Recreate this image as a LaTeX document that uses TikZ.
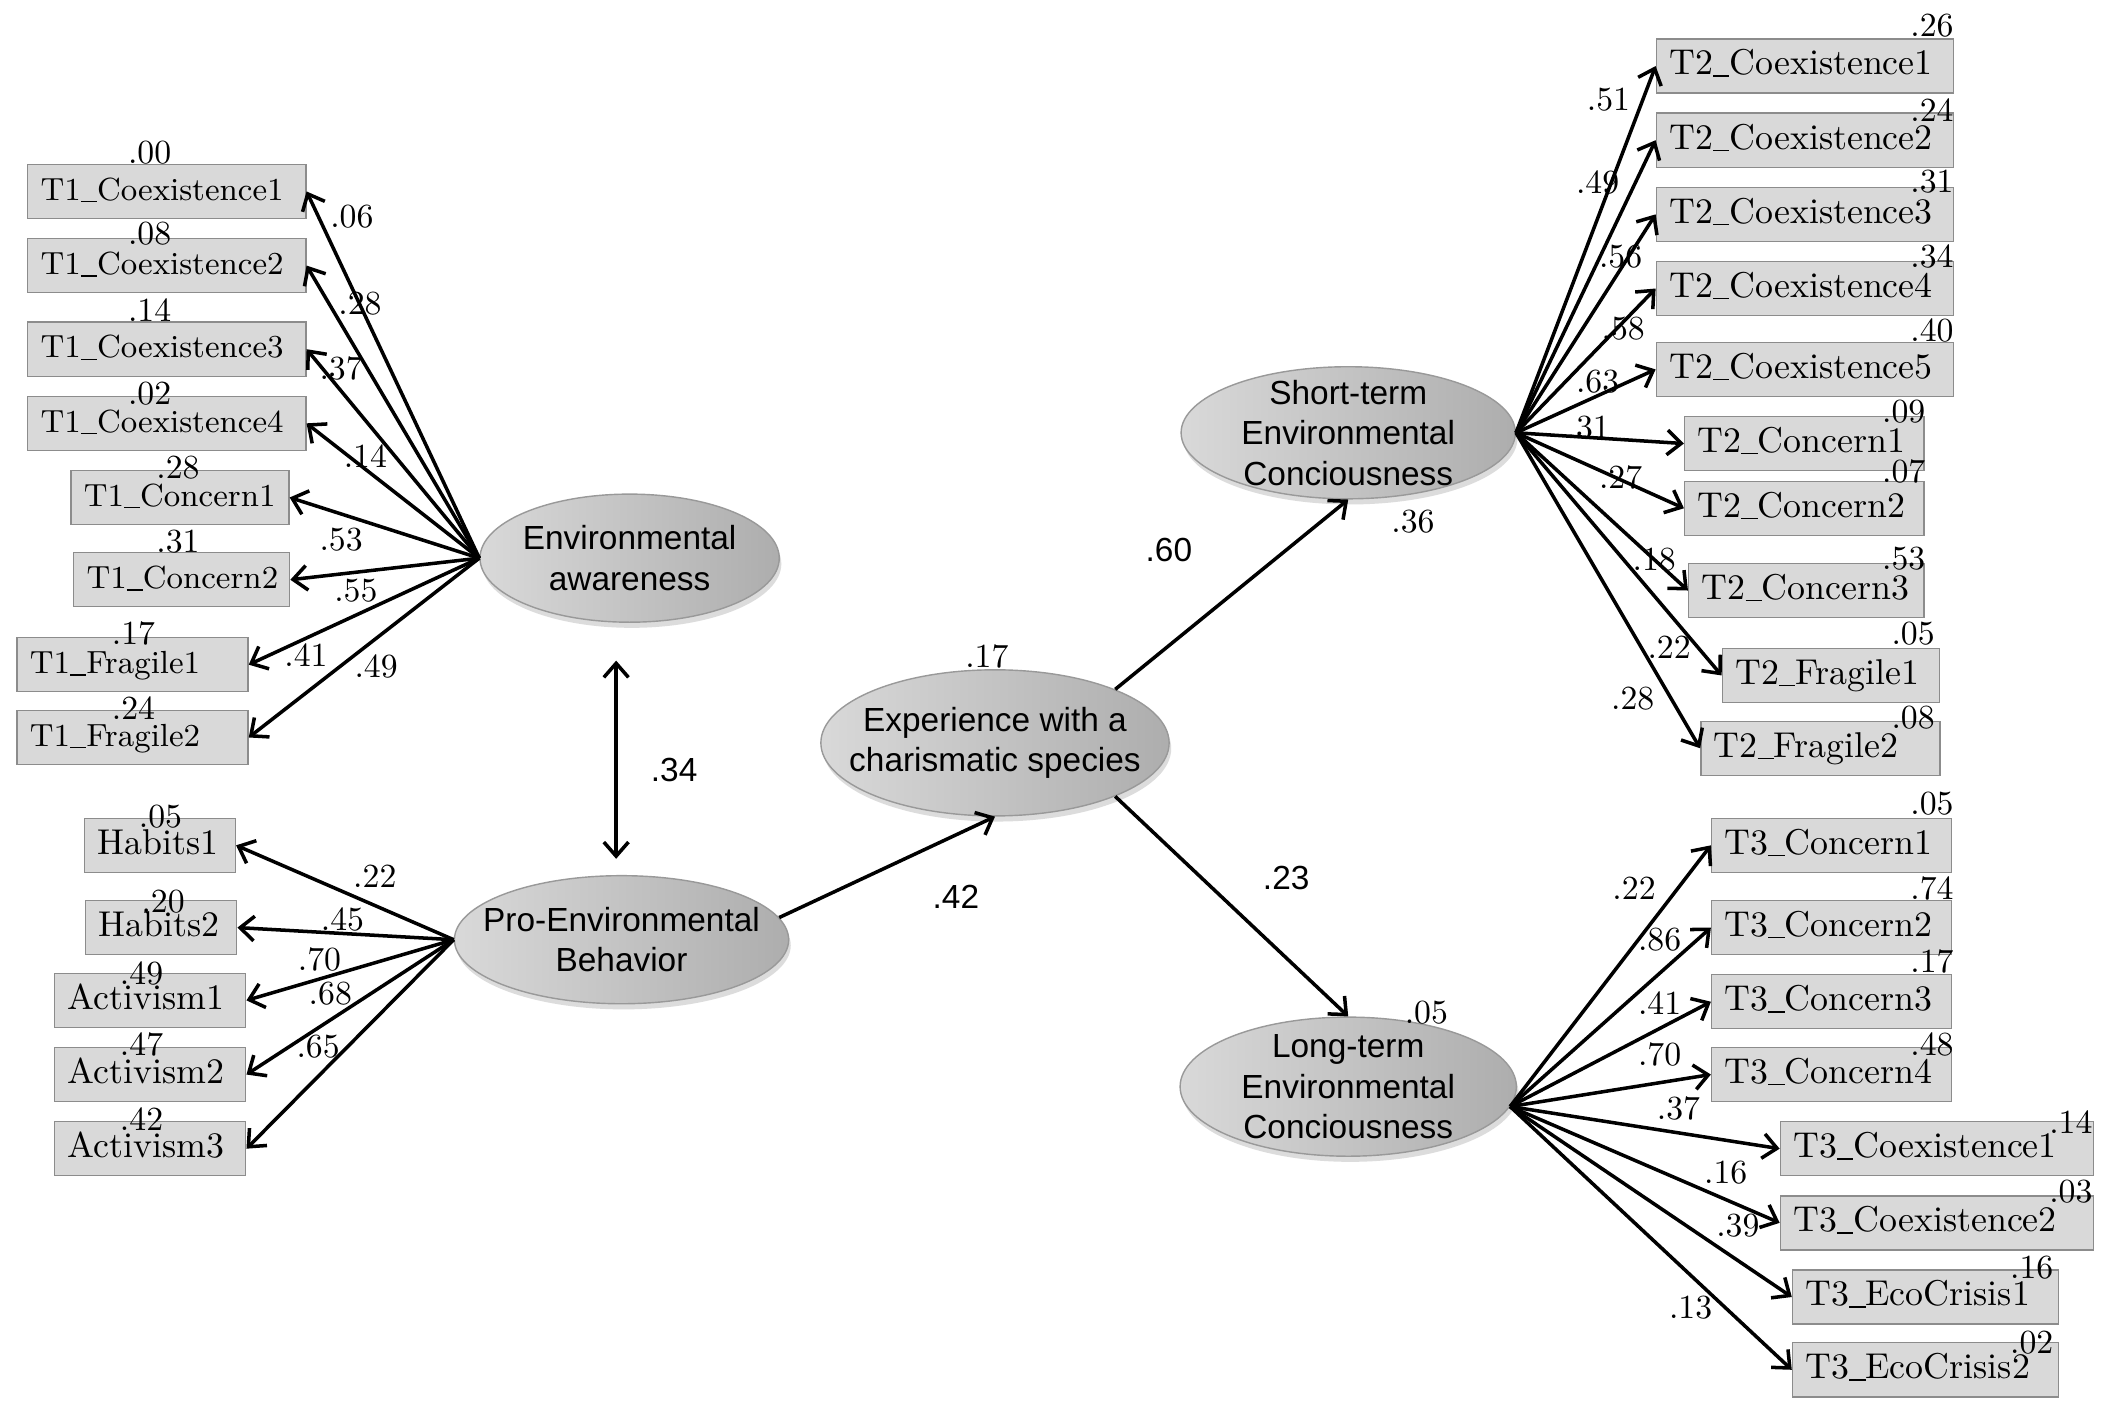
\documentclass[tikz,border=0pt]{standalone}
\usepackage{fontspec}
\newfontfamily\arialfont{Liberation Sans}
\usetikzlibrary{shapes.geometric}
\usetikzlibrary{arrows.meta}
\usetikzlibrary{shadows}
\hyphenpenalty=10000
\exhyphenpenalty=10000
\newcommand{\usc}{\rule[-0.6pt]{4.6pt}{0.45pt}}

\begin{document}
\begin{tikzpicture}[x=0.01348cm, y=-0.01348cm,
    ind/.style={rectangle, draw=black!45, fill=black!15, anchor=west, minimum height=0.54cm,
      inner xsep=0.13cm, inner ysep=0pt, text width=#1, align=left, text height=7pt, text depth=2pt,
      font=\fontsize{10.2}{12}\selectfont},
    indsmall/.style={ind=#1, font=\fontsize{9.1}{11}\selectfont},
    latent/.style={ellipse, draw=black!40, left color=black!15, right color=black!32, inner sep=-8pt,
      align=center, font=\arialfont\fontsize{9.5}{11.5}\selectfont,
      drop shadow={shadow xshift=0.6pt, shadow yshift=-1.6pt, fill=black!30, opacity=0.45}},
    coef/.style={inner sep=0pt, font=\fontsize{9.6}{11}\selectfont},
    pcoef/.style={inner sep=0pt, font=\arialfont\fontsize{9.5}{11}\selectfont},
    arr/.style={-{Straight Barb[length=4pt,width=7pt]}, line width=1pt},
    darr/.style={{Straight Barb[length=4pt,width=7pt]}-{Straight Barb[length=4pt,width=7pt]}, line width=1pt}]
    \fill[white] (0,0) rectangle (1568,1046);
    \useasboundingbox (0,0) rectangle (1568,1046);

    % latent variables
    \node[latent, minimum width=2.99cm, minimum height=1.28cm] (ea) at (467,414) {Environmental\\awareness};
    \node[latent, minimum width=3.34cm, minimum height=1.28cm] (peb) at (461,697) {Pro-Environmental\\Behavior};
    \node[latent, minimum width=3.48cm, minimum height=1.46cm] (exp) at (738,551) {Experience with a\\charismatic species};
    \node[latent, minimum width=3.34cm, minimum height=1.32cm] (st) at (1000,321) {Short-term\\Environmental\\Conciousness};
    \node[latent, minimum width=3.36cm, minimum height=1.39cm] (lt) at (1000,806) {Long-term\\Environmental\\Conciousness};

    % T1 indicators
    \node[indsmall=2.52cm] (t1c1) at (20,142) {T1\usc Coexistence1};
    \node[indsmall=2.52cm] (t1c2) at (20,197) {T1\usc Coexistence2};
    \node[indsmall=2.52cm] (t1c3) at (20,259) {T1\usc Coexistence3};
    \node[indsmall=2.52cm] (t1c4) at (20,314) {T1\usc Coexistence4};
    \node[indsmall=1.92cm] (t1k1) at (52,369) {T1\usc Concern1};
    \node[indsmall=1.90cm] (t1k2) at (54,430) {T1\usc Concern2};
    \node[indsmall=2.05cm] (t1f1) at (12,493) {T1\usc Fragile1};
    \node[indsmall=2.05cm] (t1f2) at (12,547) {T1\usc Fragile2};

    % behaviour indicators
    \node[ind=1.25cm] (hab1) at (62,627) {Habits1};
    \node[ind=1.25cm] (hab2) at (63,688) {Habits2};
    \node[ind=1.65cm] (act1) at (40,742) {Activism1};
    \node[ind=1.65cm] (act2) at (40,797) {Activism2};
    \node[ind=1.65cm] (act3) at (40,852) {Activism3};

    % T2 indicators
    \node[ind=2.71cm] (t2c1) at (1228,49) {T2\usc Coexistence1};
    \node[ind=2.71cm] (t2c2) at (1228,104) {T2\usc Coexistence2};
    \node[ind=2.71cm] (t2c3) at (1228,159) {T2\usc Coexistence3};
    \node[ind=2.71cm] (t2c4) at (1228,214) {T2\usc Coexistence4};
    \node[ind=2.71cm] (t2c5) at (1228,274) {T2\usc Coexistence5};
    \node[ind=2.13cm] (t2k1) at (1249,329) {T2\usc Concern1};
    \node[ind=2.13cm] (t2k2) at (1249,377) {T2\usc Concern2};
    \node[ind=2.09cm] (t2k3) at (1252,438) {T2\usc Concern3};
    \node[ind=1.91cm] (t2f1) at (1277,501) {T2\usc Fragile1};
    \node[ind=2.13cm] (t2f2) at (1261,555) {T2\usc Fragile2};

    % T3 indicators
    \node[ind=2.14cm] (t3k1) at (1269,627) {T3\usc Concern1};
    \node[ind=2.14cm] (t3k2) at (1269,688) {T3\usc Concern2};
    \node[ind=2.14cm] (t3k3) at (1269,743) {T3\usc Concern3};
    \node[ind=2.14cm] (t3k4) at (1269,797) {T3\usc Concern4};
    \node[ind=2.87cm] (t3c1) at (1320,852) {T3\usc Coexistence1};
    \node[ind=2.87cm] (t3c2) at (1320,907) {T3\usc Coexistence2};
    \node[ind=2.40cm] (t3e1) at (1329,962) {T3\usc EcoCrisis1};
    \node[ind=2.40cm] (t3e2) at (1329,1016) {T3\usc EcoCrisis2};

    % loadings
    \foreach \t in {t1c1,t1c2,t1c3,t1c4,t1k1,t1k2,t1f1,t1f2}
        \draw[arr] (ea.west) -- (\t.east);
    \foreach \t in {hab1,hab2,act1,act2,act3}
        \draw[arr] (peb.west) -- (\t.east);
    \foreach \t in {t2c1,t2c2,t2c3,t2c4,t2c5,t2k1,t2k2,t2k3,t2f1,t2f2}
        \draw[arr] (st.east) -- (\t.west);
    \foreach \t in {t3k1,t3k2,t3k3,t3k4,t3c1,t3c2,t3e1,t3e2}
        \draw[arr] (lt.-7) -- (\t.west);

    % structural paths
    \coordinate (cov1) at (457,490);
    \coordinate (cov2) at (457,637);
    \draw[darr] (cov1) -- (cov2);
    \draw[arr] (peb.8) -- (exp.south);
    \draw[arr] (exp.24) -- (st.south);
    \draw[arr] (exp.-24) -- (lt.north);

    % path coefficients
    \node[pcoef] (pcov) at (500,571) {.34};
    \node[pcoef] (ppeb) at (709,665) {.42};
    \node[pcoef] (pst) at (867,408) {.60};
    \node[pcoef] (plt) at (954,651) {.23};
    \node[coef] (rexp) at (732,487) {.17};
    \node[coef] (rst) at (1048,387) {.36};
    \node[coef] (rlt) at (1058,751) {.05};

    % T1 values
    \node[coef] (t1c1r) at (111,113) {.00};
    \node[coef] (t1c2r) at (111,173) {.08};
    \node[coef] (t1c3r) at (111,230) {.14};
    \node[coef] (t1c4r) at (111,292) {.02};
    \node[coef] (t1k1r) at (132,347) {.28};
    \node[coef] (t1k2r) at (132,402) {.31};
    \node[coef] (t1f1r) at (99,470) {.17};
    \node[coef] (t1f2r) at (99,525) {.24};
    \node[coef] (t1c1w) at (261,161) {.06};
    \node[coef] (t1c2w) at (267,225) {.28};
    \node[coef] (t1c3w) at (253,273) {.37};
    \node[coef] (t1c4w) at (271,338) {.14};
    \node[coef] (t1k1w) at (253,400) {.53};
    \node[coef] (t1k2w) at (264,438) {.55};
    \node[coef] (t1f1w) at (227,486) {.41};
    \node[coef] (t1f2w) at (279,494) {.49};

    % behaviour values
    \node[coef] (hab1r) at (119,606) {.05};
    \node[coef] (hab2r) at (121,669) {.20};
    \node[coef] (act1r) at (105,722) {.49};
    \node[coef] (act2r) at (105,775) {.47};
    \node[coef] (act3r) at (105,830) {.42};
    \node[coef] (hab1w) at (278,650) {.22};
    \node[coef] (hab2w) at (254,682) {.45};
    \node[coef] (act1w) at (237,712) {.70};
    \node[coef] (act2w) at (245,737) {.68};
    \node[coef] (act3w) at (236,776) {.65};

    % T2 values
    \node[coef] (t2c1r) at (1433,19) {.26};
    \node[coef] (t2c2r) at (1433,82) {.24};
    \node[coef] (t2c3r) at (1433,135) {.31};
    \node[coef] (t2c4r) at (1433,190) {.34};
    \node[coef] (t2c5r) at (1433,245) {.40};
    \node[coef] (t2k1r) at (1412,305) {.09};
    \node[coef] (t2k2r) at (1412,350) {.07};
    \node[coef] (t2k3r) at (1412,414) {.53};
    \node[coef] (t2f1r) at (1419,470) {.05};
    \node[coef] (t2f2r) at (1419,532) {.08};
    \node[coef] (t2c1w) at (1193,74) {.51};
    \node[coef] (t2c2w) at (1185,135) {.49};
    \node[coef] (t2c3w) at (1202,190) {.56};
    \node[coef] (t2c4w) at (1204,244) {.58};
    \node[coef] (t2c5w) at (1185,283) {.63};
    \node[coef] (t2k1w) at (1178,317) {.31};
    \node[coef] (t2k2w) at (1202,354) {.27};
    \node[coef] (t2k3w) at (1227,415) {.18};
    \node[coef] (t2f1w) at (1238,480) {.22};
    \node[coef] (t2f2w) at (1211,518) {.28};

    % T3 values
    \node[coef] (t3k1r) at (1433,596) {.05};
    \node[coef] (t3k2r) at (1433,659) {.74};
    \node[coef] (t3k3r) at (1433,713) {.17};
    \node[coef] (t3k4r) at (1433,775) {.48};
    \node[coef] (t3c1r) at (1536,832) {.14};
    \node[coef] (t3c2r) at (1536,884) {.03};
    \node[coef] (t3e1r) at (1507,940) {.16};
    \node[coef] (t3e2r) at (1507,996) {.02};
    \node[coef] (t3k1w) at (1212,659) {.22};
    \node[coef] (t3k2w) at (1231,697) {.86};
    \node[coef] (t3k3w) at (1231,744) {.41};
    \node[coef] (t3k4w) at (1231,782) {.70};
    \node[coef] (t3c1w) at (1245,822) {.37};
    \node[coef] (t3c2w) at (1280,870) {.16};
    \node[coef] (t3e1w) at (1289,909) {.39};
    \node[coef] (t3e2w) at (1254,970) {.13};
\end{tikzpicture}
\end{document}
